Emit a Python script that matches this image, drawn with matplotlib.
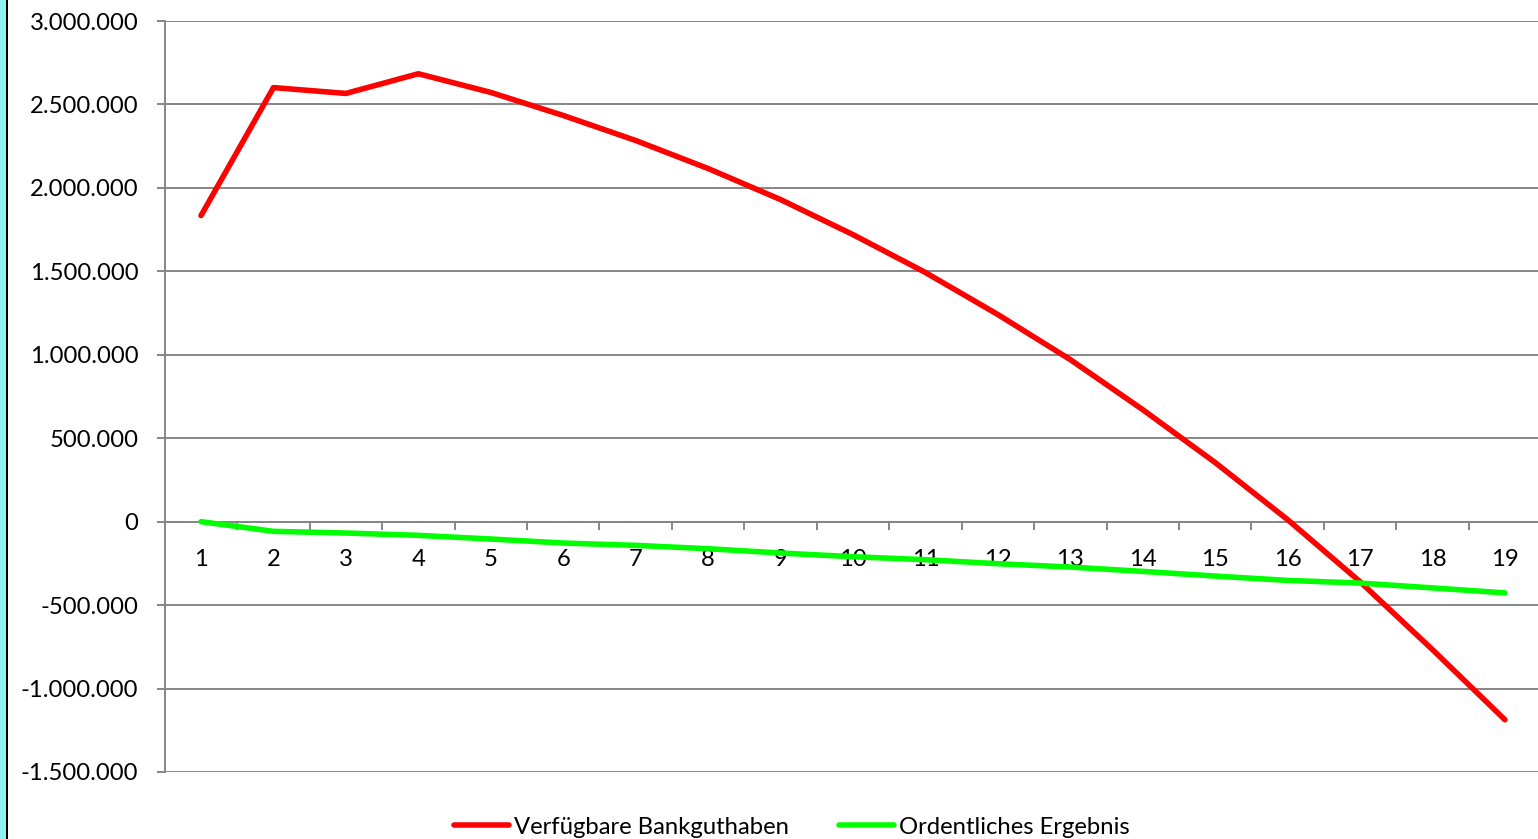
import matplotlib
matplotlib.use("Agg")
import matplotlib.pyplot as plt
from matplotlib.ticker import FuncFormatter, FixedLocator, MultipleLocator
from matplotlib.patches import Rectangle

plt.rcParams['font.family'] = ['Lato', 'DejaVu Sans']

# ---- data ----
categories = list(range(1, 20))
bankguthaben = [1834000, 2601000, 2566000, 2684000, 2572000, 2434000, 2284000,
                2116000, 1930000, 1720000, 1493000, 1241000, 971000, 671000,
                354000, 12000, -360000, -767000, -1187000]
ergebnis = [0, -58000, -68000, -82000, -104000, -128000, -142000, -162000,
            -188000, -210000, -228000, -252000, -272000, -298000, -326000,
            -352000, -368000, -397000, -427000]
series_labels = ["Verfügbare Bankguthaben", "Ordentliches Ergebnis"]
y_min, y_max, y_step = -1500000, 3000000, 500000

W, H = 1538, 839
fig = plt.figure(figsize=(W / 100, H / 100), dpi=100)
fig.patch.set_facecolor('white')

# left decoration strip
fig.patches.append(Rectangle((0, 0), 6 / W, 1, transform=fig.transFigure,
                             facecolor='#8FF0F2', edgecolor='none', zorder=0))
fig.patches.append(Rectangle((6 / W, 0), 2 / W, 1, transform=fig.transFigure,
                             facecolor='black', edgecolor='none', zorder=0))

ax = fig.add_axes([164.8 / W, (H - 772) / H, 1376.4 / W, 751 / H])
ax.set_facecolor('none')

fs = 17.2
grid_c = '#868686'
ax.plot(categories, bankguthaben, color='#FF0000', lw=4.0,
        solid_capstyle='round', solid_joinstyle='round', label=series_labels[0], zorder=3)
ax.plot(categories, ergebnis, color='#00FF00', lw=4.0,
        solid_capstyle='round', solid_joinstyle='round', label=series_labels[1], zorder=3)

ax.set_xlim(0.5, 19.5)
ax.set_ylim(y_min, y_max)

ax.yaxis.set_major_locator(MultipleLocator(y_step))
ax.yaxis.set_major_formatter(FuncFormatter(lambda v, p: f"{int(round(v)):,}".replace(',', '.')))
ax.grid(axis='y', color=grid_c, lw=1.4, zorder=1)
ax.grid(axis='x', visible=False)

ax.set_xticks(categories)
ax.set_xticklabels([str(c) for c in categories])
ax.xaxis.set_minor_locator(FixedLocator([c + 0.5 for c in categories]))

for s in ['top', 'right']:
    ax.spines[s].set_visible(False)
ax.spines['bottom'].set_position(('data', 0))
ax.spines['bottom'].set_color(grid_c)
ax.spines['bottom'].set_linewidth(1.4)
ax.spines['left'].set_color(grid_c)
ax.spines['left'].set_linewidth(1.4)
ax.spines['bottom'].set_zorder(1)

ax.tick_params(axis='x', which='major', length=0, pad=19.5, labelsize=fs, colors='black')
ax.tick_params(axis='x', which='minor', length=6, width=1.4, color=grid_c, direction='out')
ax.tick_params(axis='y', which='major', length=6, width=1.4, color=grid_c, pad=13,
               labelsize=fs, labelcolor='black')

fig.legend(loc='center', bbox_to_anchor=(792 / W, (H - 827) / H), ncol=2, frameon=False,
           fontsize=fs, handlelength=2.3, handletextpad=0.2, columnspacing=2.1,
           borderpad=0, borderaxespad=0)

fig.savefig('out.png', dpi=100, facecolor='white')
